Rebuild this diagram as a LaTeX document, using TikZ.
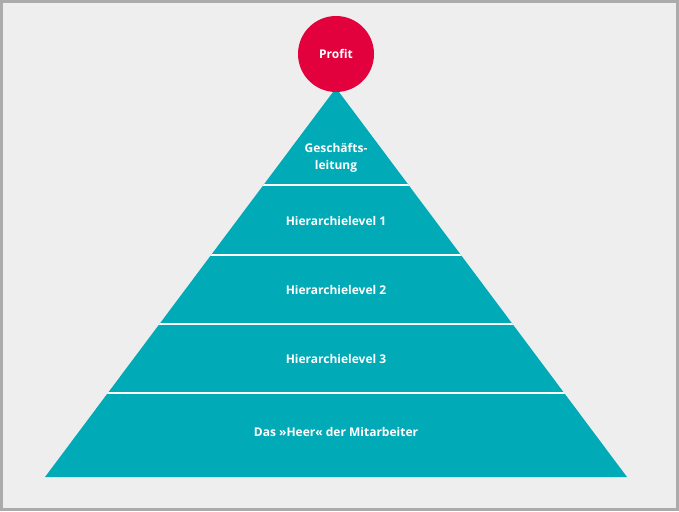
\documentclass[tikz,border=0pt]{standalone}
\usepackage{fontspec}
\setmainfont{Open Sans}
\definecolor{teal1}{HTML}{00AAB6}
\definecolor{red1}{HTML}{E2003D}
\definecolor{bg}{HTML}{EEEEEE}
\definecolor{frame}{HTML}{ABABAB}
\begin{document}
\begin{tikzpicture}[x=1pt,y=-1pt,
  lbl/.style={text=white,font=\bfseries\fontsize{12}{15}\selectfont,align=center}]
\fill[frame] (0,0) rectangle (679,511);
\fill[bg] (3,3) rectangle (676,508);
\coordinate (apex) at (336,88);
\coordinate (bl) at (45,477);
\coordinate (br) at (627,477);
\fill[teal1] (apex) -- (bl) -- (br) -- cycle;
\begin{scope}
\clip (apex) -- (bl) -- (br) -- cycle;
\foreach \yy in {185,255,324,393} \draw[white,line width=2.2pt] (0,\yy) -- (679,\yy);
\end{scope}
\node[circle,fill=red1,minimum size=76pt,inner sep=0pt,lbl] (profit) at (336,54) {Profit};
\node[lbl,font=\bfseries\fontsize{12}{17}\selectfont] (g) at (336,158) {Geschäfts-\\leitung};
\node[lbl] (h1) at (336,221) {Hierarchielevel 1};
\node[lbl] (h2) at (336,290) {Hierarchielevel 2};
\node[lbl] (h3) at (336,359) {Hierarchielevel 3};
\node[lbl] (m) at (336,432) {Das »Heer« der Mitarbeiter};
\end{tikzpicture}
\end{document}
